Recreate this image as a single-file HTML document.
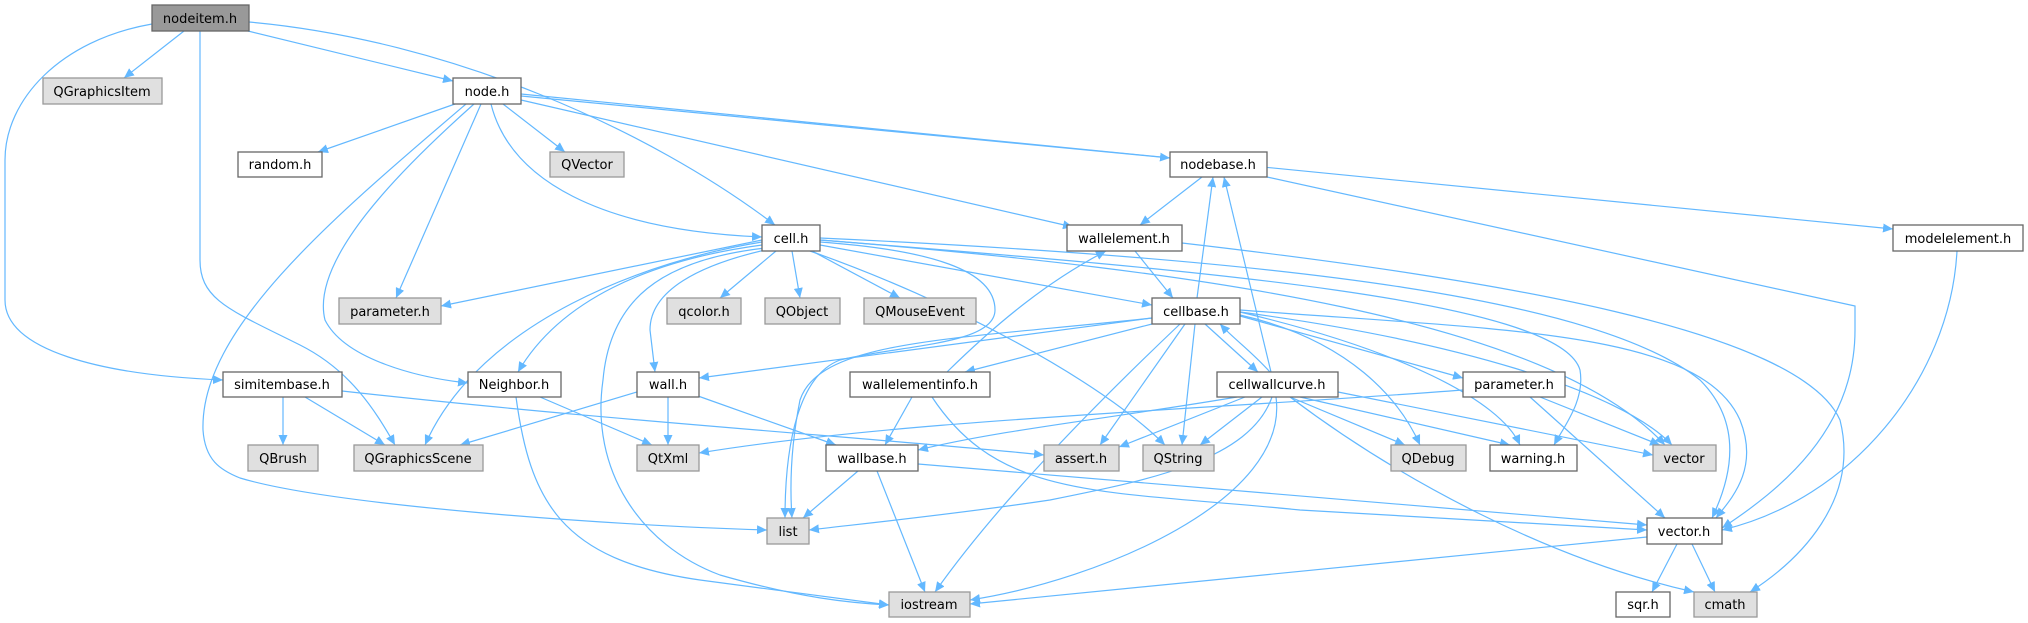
<!DOCTYPE html>
<html><head><meta charset="utf-8"><style>
html,body{margin:0;padding:0;background:#fff;}
svg{display:block;}
text{font-family:"DejaVu Sans","Liberation Sans",sans-serif;font-size:13px;fill:#000;text-anchor:middle;}
.e{fill:none;stroke:#63b8ff;stroke-width:1.2;marker-end:url(#a);}
.w{fill:#fff;stroke:#666;stroke-width:1.3;}
.g{fill:#e0e0e0;stroke:#999;stroke-width:1.3;}
.d{fill:#999;stroke:#666;stroke-width:1.3;}
</style></head><body>
<svg width="2028" height="623" viewBox="0 0 2028 623" xmlns="http://www.w3.org/2000/svg">
<defs><marker id="a" markerUnits="userSpaceOnUse" markerWidth="11" markerHeight="9" refX="10" refY="4.5" orient="auto"><path d="M0,0 L10,4.5 L0,9 z" fill="#63b8ff"/></marker></defs>
<g>
<path class="e" d="M184,31 L124,78"/>
<path class="e" d="M248,31 L453,81"/>
<path class="e" d="M249,22 C450,40 650,130 775,225"/>
<path class="e" d="M152,24 C60,40 5,100 5,160 L5,300 C5,350 100,375 223,380"/>
<path class="e" d="M200,31 L200,260 C200,300 230,310 300,345 C350,370 375,410 395,445"/>
<path class="e" d="M455,104 L318,152"/>
<path class="e" d="M503,104 L565,152"/>
<path class="e" d="M481,104 L396,298"/>
<path class="e" d="M521,96 L1170,158"/>
<path class="e" d="M521,94 L1893,229"/>
<path class="e" d="M521,100 L1073,227"/>
<path class="e" d="M491,104 C510,180 600,230 762,237"/>
<path class="e" d="M474,104 C400,170 310,260 325,320 C345,360 420,378 468,383"/>
<path class="e" d="M466,104 C330,220 200,330 203,430 C205,460 220,470 240,478 C330,505 600,525 767,530"/>
<path class="e" d="M762,240 L441,306"/>
<path class="e" d="M762,242 C650,260 480,320 425,445"/>
<path class="e" d="M762,245 C650,260 560,300 518,372"/>
<path class="e" d="M765,248 C660,260 610,300 603,380 C590,470 640,545 720,575 C800,598 850,603 889,605"/>
<path class="e" d="M765,250 C700,265 650,290 650,330 L655,372"/>
<path class="e" d="M820,242 C930,250 995,270 995,310 C995,345 900,345 840,360 C800,375 785,440 785,518"/>
<path class="e" d="M776,251 L720,298"/>
<path class="e" d="M792,251 L800,298"/>
<path class="e" d="M812,251 L900,298"/>
<path class="e" d="M820,245 L1152,305"/>
<path class="e" d="M810,251 C950,300 1100,380 1165,445"/>
<path class="e" d="M820,240 C1200,270 1550,320 1665,445"/>
<path class="e" d="M820,238 C1300,260 1600,300 1700,380 C1740,420 1735,470 1712,518"/>
<path class="e" d="M820,240 C1200,270 1560,300 1580,370 C1585,400 1565,425 1554,445"/>
<path class="e" d="M1202,177 L1140,225"/>
<path class="e" d="M1267,177 L1855,306 L1855,330 C1855,430 1780,490 1722,528"/>
<path class="e" d="M1135,251 L1173,298"/>
<path class="e" d="M1182,243 C1500,280 1800,330 1840,420 C1860,500 1800,560 1750,592"/>
<path class="e" d="M1957,251 C1950,380 1850,500 1722,530"/>
<path class="e" d="M1197,298 L1213,177"/>
<path class="e" d="M1271,372 L1224,177"/>
<path class="e" d="M1152,318 L699,378"/>
<path class="e" d="M1152,324 L965,372"/>
<path class="e" d="M1152,318 C950,340 820,340 800,400 C790,450 790,490 792,518"/>
<path class="e" d="M1180,324 C1100,400 1000,500 935,592"/>
<path class="e" d="M1185,324 L1100,445"/>
<path class="e" d="M1195,324 L1182,445"/>
<path class="e" d="M1205,324 L1258,372"/>
<path class="e" d="M1270,372 C1250,350 1235,340 1220,324"/>
<path class="e" d="M1240,315 C1350,340 1400,400 1420,445"/>
<path class="e" d="M1240,312 C1400,350 1500,400 1520,445"/>
<path class="e" d="M1240,316 L1463,378"/>
<path class="e" d="M1240,312 C1450,340 1620,390 1672,445"/>
<path class="e" d="M1240,310 C1500,330 1700,330 1740,420 C1760,470 1730,500 1716,518"/>
<path class="e" d="M1237,397 C1100,420 1000,430 918,450"/>
<path class="e" d="M1245,397 L1119,447"/>
<path class="e" d="M1262,397 L1200,445"/>
<path class="e" d="M1272,397 C1250,460 1150,480 1050,500 C950,515 850,525 809,530"/>
<path class="e" d="M1276,397 C1290,500 1100,580 970,600"/>
<path class="e" d="M1290,397 L1405,445"/>
<path class="e" d="M1300,397 L1510,445"/>
<path class="e" d="M1338,392 L1653,455"/>
<path class="e" d="M1290,397 C1400,480 1550,560 1694,592"/>
<path class="e" d="M1463,390 C1200,410 900,420 699,453"/>
<path class="e" d="M1540,397 L1660,445"/>
<path class="e" d="M1530,397 L1665,518"/>
<path class="e" d="M947,372 C1000,320 1050,280 1106,251"/>
<path class="e" d="M912,397 L885,445"/>
<path class="e" d="M932,397 C1000,500 1100,490 1300,510 L1647,530"/>
<path class="e" d="M637,392 L460,445"/>
<path class="e" d="M668,397 L668,445"/>
<path class="e" d="M698,396 L836,445"/>
<path class="e" d="M540,397 L652,445"/>
<path class="e" d="M516,397 C530,500 560,560 700,580 C780,590 850,600 889,605"/>
<path class="e" d="M283,397 L283,445"/>
<path class="e" d="M305,397 L385,445"/>
<path class="e" d="M342,391 C600,420 900,440 1044,455"/>
<path class="e" d="M858,471 L803,518"/>
<path class="e" d="M877,471 L925,592"/>
<path class="e" d="M918,464 L1647,525"/>
<path class="e" d="M1647,537 L970,604"/>
<path class="e" d="M1677,544 L1652,592"/>
<path class="e" d="M1692,544 L1715,592"/>
</g>
<g>
<rect class="d" x="152" y="5" width="97" height="26"/><text x="200" y="23">nodeitem.h</text>
<rect class="g" x="43" y="78" width="119" height="26"/><text x="102" y="96">QGraphicsItem</text>
<rect class="w" x="453" y="78" width="68" height="26"/><text x="487" y="96">node.h</text>
<rect class="w" x="238" y="152" width="84" height="25"/><text x="280" y="169">random.h</text>
<rect class="g" x="550" y="152" width="74" height="25"/><text x="587" y="169">QVector</text>
<rect class="w" x="1170" y="152" width="97" height="25"/><text x="1218" y="169">nodebase.h</text>
<rect class="w" x="762" y="225" width="58" height="26"/><text x="791" y="243">cell.h</text>
<rect class="w" x="1067" y="225" width="115" height="26"/><text x="1124" y="243">wallelement.h</text>
<rect class="w" x="1893" y="225" width="130" height="26"/><text x="1958" y="243">modelelement.h</text>
<rect class="g" x="339" y="298" width="102" height="26"/><text x="390" y="316">parameter.h</text>
<rect class="g" x="667" y="298" width="74" height="26"/><text x="704" y="316">qcolor.h</text>
<rect class="g" x="765" y="298" width="75" height="26"/><text x="802" y="316">QObject</text>
<rect class="g" x="864" y="298" width="112" height="26"/><text x="920" y="316">QMouseEvent</text>
<rect class="w" x="1152" y="298" width="88" height="26"/><text x="1196" y="316">cellbase.h</text>
<rect class="w" x="223" y="372" width="119" height="25"/><text x="282" y="389">simitembase.h</text>
<rect class="w" x="468" y="372" width="93" height="25"/><text x="514" y="389">Neighbor.h</text>
<rect class="w" x="637" y="372" width="62" height="25"/><text x="668" y="389">wall.h</text>
<rect class="w" x="850" y="372" width="140" height="25"/><text x="920" y="389">wallelementinfo.h</text>
<rect class="w" x="1217" y="372" width="121" height="25"/><text x="1277" y="389">cellwallcurve.h</text>
<rect class="w" x="1463" y="372" width="102" height="25"/><text x="1514" y="389">parameter.h</text>
<rect class="g" x="248" y="445" width="70" height="26"/><text x="283" y="463">QBrush</text>
<rect class="g" x="354" y="445" width="129" height="26"/><text x="418" y="463">QGraphicsScene</text>
<rect class="g" x="637" y="445" width="62" height="26"/><text x="668" y="463">QtXml</text>
<rect class="w" x="826" y="445" width="92" height="26"/><text x="872" y="463">wallbase.h</text>
<rect class="g" x="1044" y="445" width="75" height="26"/><text x="1081" y="463">assert.h</text>
<rect class="g" x="1143" y="445" width="71" height="26"/><text x="1178" y="463">QString</text>
<rect class="g" x="1391" y="445" width="75" height="26"/><text x="1428" y="463">QDebug</text>
<rect class="w" x="1490" y="445" width="87" height="26"/><text x="1533" y="463">warning.h</text>
<rect class="g" x="1653" y="445" width="63" height="26"/><text x="1684" y="463">vector</text>
<rect class="g" x="767" y="518" width="42" height="26"/><text x="788" y="536">list</text>
<rect class="w" x="1647" y="518" width="75" height="26"/><text x="1684" y="536">vector.h</text>
<rect class="g" x="889" y="592" width="81" height="25"/><text x="929" y="609">iostream</text>
<rect class="w" x="1616" y="592" width="54" height="25"/><text x="1643" y="609">sqr.h</text>
<rect class="g" x="1694" y="592" width="63" height="25"/><text x="1725" y="609">cmath</text>
</g>
</svg>
</body></html>
